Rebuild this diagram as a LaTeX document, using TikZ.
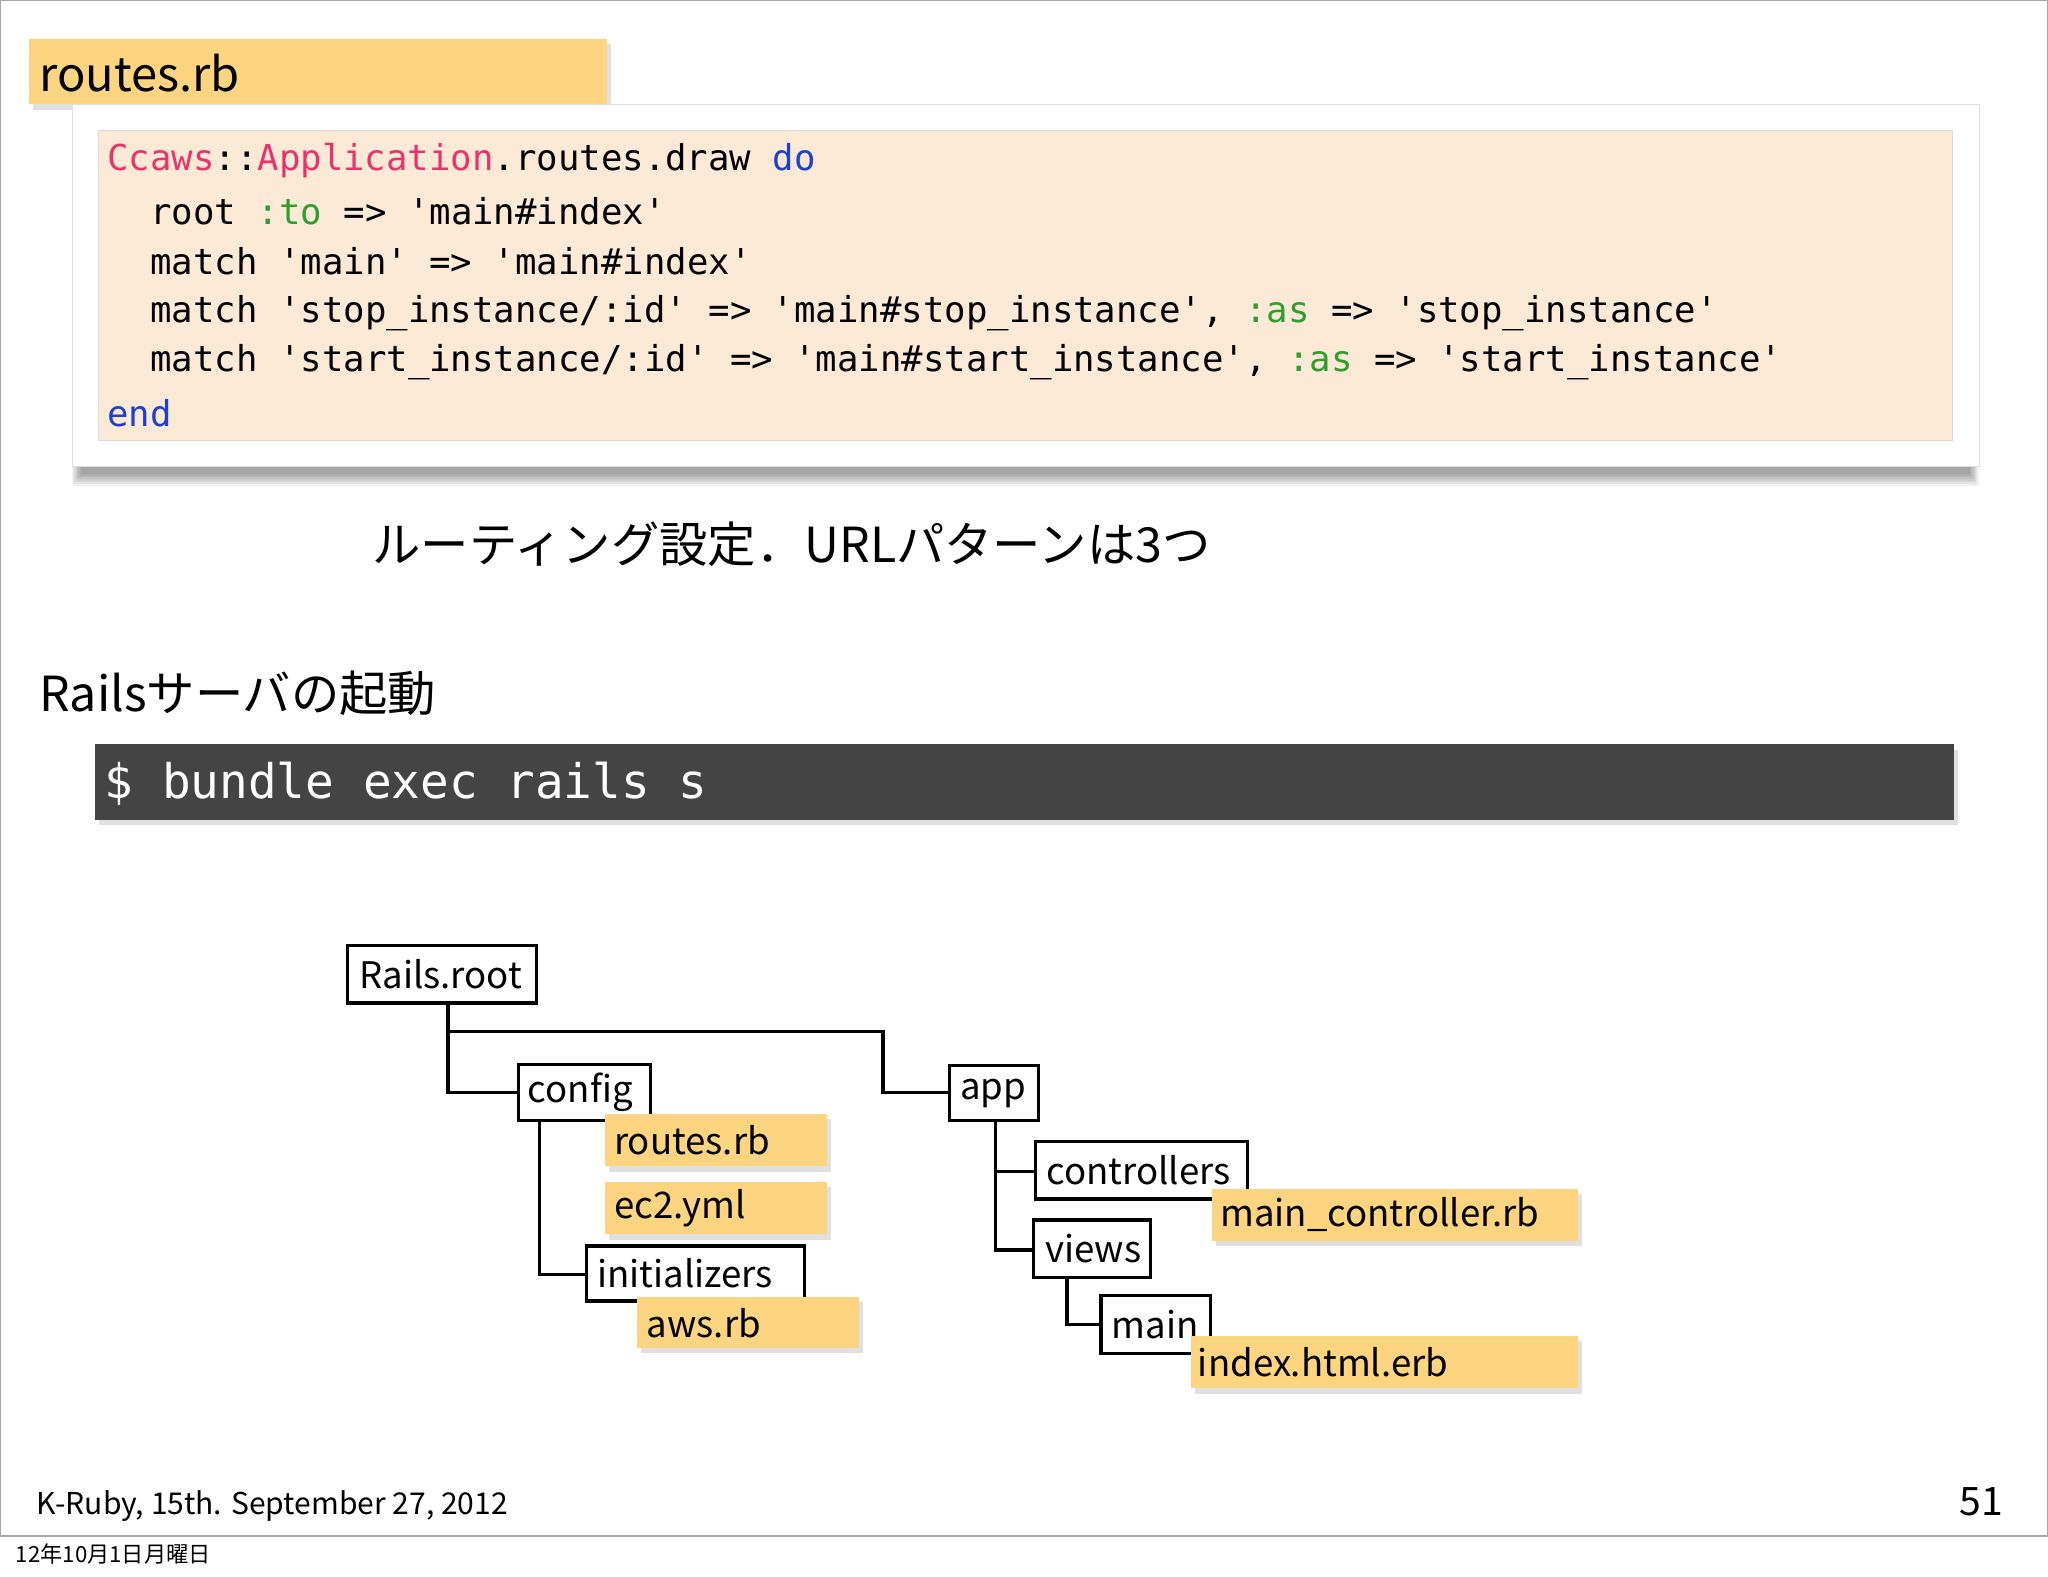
\documentclass[tikz,border=0pt]{standalone}
\usepackage{fontspec}
\setmainfont{Noto Sans CJK JP}
\newfontfamily\mono{DejaVu Sans Mono}[Ligatures=TeXOff]
\usetikzlibrary{shadows}
\definecolor{yel}{HTML}{FDD47F}
\definecolor{peach}{HTML}{FCE9D6}
\definecolor{pk}{HTML}{E8336B}
\definecolor{gr}{HTML}{2E9E2E}
\definecolor{bl}{HTML}{1C3FD8}
\definecolor{bar}{HTML}{444444}
\tikzset{
  sh/.style={drop shadow={shadow xshift=3pt,shadow yshift=-4pt,opacity=0.2,fill=black!60}},
  yb/.style={fill=yel, draw=none, sh},
  tb/.style={draw=black, line width=2.5pt, fill=white},
  txt/.style={anchor=west, inner sep=0pt, font=\fontsize{28}{30}\selectfont},
  code/.style={anchor=west, inner sep=0pt, font=\mono\fontsize{27.3}{29}\selectfont},
  tl/.style={line width=2.5pt, draw=black},
}
\newcommand\qq{'}
\begin{document}
\begin{tikzpicture}[x=1pt,y=-1pt]
\useasboundingbox (0,0) rectangle (1568,1207);
\fill[white] (0,0) rectangle (1568,1207);
\draw[gray!70, line width=1pt] (0.5,0.5) rectangle (1567.5,1176);
% title
\fill[yel, sh] (22,30) rectangle (465,80);
\node[txt, font=\fontsize{36}{38}\selectfont] (t1) at (30,56) {routes.rb};
% code box with soft shadow
\foreach \i in {0,...,7} {\fill[black, opacity=0.05] (55+\i,357-\i) rectangle (1515-\i,372+\i*0.2-\i*1.5);}
\fill[white] (55,80) rectangle (1515,357);
\draw[black!12] (55,80) rectangle (1515,357);
\fill[peach] (75,100) rectangle (1495,337);
\draw[black!15] (75,100) rectangle (1495,337);
\node[code] (c1) at (82,123) {\textcolor{pk}{Ccaws}::\textcolor{pk}{Application}.routes.draw \textcolor{bl}{do}};
\node[code] (c2) at (115,162) {root \textcolor{gr}{:to} => \qq main\#index\qq};
\node[code] (c3) at (115,200) {match \qq main\qq{} => \qq main\#index\qq};
\node[code] (c4) at (115,240) {match \qq stop\_instance/:id\qq{} => \qq main\#stop\_instance\qq, \textcolor{gr}{:as} => \qq stop\_instance\qq};
\node[code] (c5) at (115,277) {match \qq start\_instance/:id\qq{} => \qq main\#start\_instance\qq, \textcolor{gr}{:as} => \qq start\_instance\qq};
\node[code] (c6) at (82,316) {\textcolor{bl}{end}};
\node[txt, font=\fontsize{37}{39}\selectfont] (cap) at (285,417) {ルーティング設定．URLパターンは3つ};
\node[txt, font=\fontsize{37}{39}\selectfont] (rs) at (30,531) {Railsサーバの起動};
\fill[bar, sh] (73,570) rectangle (1496,628);
\node[code, text=white, font=\mono\fontsize{36.5}{38}\selectfont] (cmd) at (80,600) {\$ bundle exec rails s};
% tree
\draw[tl] (343,768) -- (343,836.5) -- (397,836.5);
\draw[tl] (343,790) -- (676,790) -- (676,836.5) -- (727,836.5);
\draw[tl] (413,858) -- (413,976) -- (449,976);
\draw[tl] (762,858) -- (762,897) -- (793,897);
\draw[tl] (762,897) -- (762,957) -- (791,957);
\draw[tl] (817,978) -- (817,1014) -- (843,1014);
\draw[tb] (266,724) rectangle (411,768); \node[txt] (rr) at (275,746) {Rails.root};
\draw[tb] (397,815) rectangle (498,858); \node[txt] (cf) at (404,836) {config};
\fill[yb] (463,853) rectangle (633,893); \node[txt] (r1) at (470,873) {routes.rb};
\fill[yb] (463,905) rectangle (633,945); \node[txt] (r2) at (470,925) {ec2.yml};
\draw[tb] (449,954) rectangle (616,996); \node[txt] (in) at (457,975) {initializers};
\fill[yb] (488,993) rectangle (658,1032); \node[txt] (aw) at (495,1013) {aws.rb};
\draw[tb] (727,816) rectangle (795,858); \node[txt] (ap) at (735,837) {app};
\draw[tb] (793,874) rectangle (955,918); \node[txt] (co) at (801,896) {controllers};
\fill[yb] (928,910) rectangle (1208,950); \node[txt] (mc) at (934,930) {main\_controller.rb};
\draw[tb] (791,934) rectangle (881,978); \node[txt] (vw) at (800,956) {views};
\draw[tb] (843,992) rectangle (927,1036); \node[txt] (mn) at (851,1014) {main};
\fill[yb] (912,1023) rectangle (1208,1063); \node[txt] (ix) at (917,1043) {index.html.erb};
% footer
\node[txt, font=\fontsize{23}{25}\selectfont] (ft) at (28,1153) {K-Ruby, 15th. September 27, 2012};
\node[anchor=east, inner sep=0pt, font=\fontsize{30}{32}\selectfont] (pg) at (1534,1150) {51};
\node[txt, font=\fontsize{17}{19}\selectfont] (dt) at (12,1190) {12年10月1日月曜日};
\end{tikzpicture}
\end{document}
